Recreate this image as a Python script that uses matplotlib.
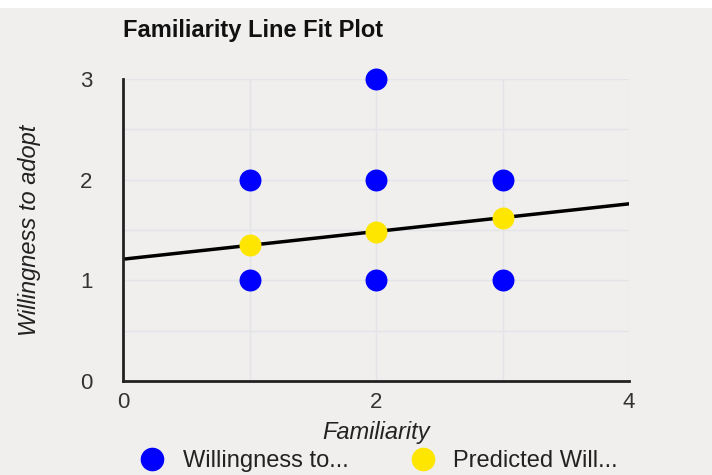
import matplotlib.pyplot as plt
from matplotlib.lines import Line2D
from matplotlib.patches import Rectangle

# data
familiarity = [1, 1, 2, 2, 2, 3, 3]
willingness = [2, 1, 3, 2, 1, 2, 1]
pred_x = [1, 2, 3]
pred_y = [1.35, 1.48, 1.62]
fit_x = [0, 4]
fit_y = [1.21, 1.76]

bg = '#f0efee'
font = ['Liberation Sans', 'DejaVu Sans']

fig = plt.figure(figsize=(7.12, 4.75), dpi=100)
fig.patch.set_facecolor(bg)
fig.patches.append(Rectangle((0, 1 - 8 / 475), 1, 8 / 475, transform=fig.transFigure,
                             facecolor='white', edgecolor='none'))

ax = fig.add_axes([123 / 712, 1 - 381 / 475, 506 / 712, 302 / 475])
ax.set_facecolor(bg)

ax.plot(fit_x, fit_y, color='black', lw=2.5, zorder=2)
ax.scatter(familiarity, willingness, s=250, color='#0000ff', zorder=3, linewidths=0, clip_on=False)
ax.scatter(pred_x, pred_y, s=250, color='#ffe600', zorder=4, linewidths=0, clip_on=False)

ax.set_xlim(0, 4)
ax.set_ylim(0, 3)
ax.set_xticks([0, 2, 4])
ax.set_yticks([0, 1, 2, 3])
ax.set_xticks([1, 3], minor=True)
ax.set_yticks([0.5, 1.5, 2.5], minor=True)
ax.grid(True, which='both', color='#e4e3e8', lw=1)
ax.set_axisbelow(True)
ax.tick_params(which='both', length=0, labelsize=16, colors='#333333')
ax.tick_params(axis='y', pad=22)
ax.tick_params(axis='x', pad=8)
for lab in ax.get_xticklabels() + ax.get_yticklabels():
    lab.set_family(font)

for s in ['top', 'right']:
    ax.spines[s].set_visible(False)
for s in ['left', 'bottom']:
    ax.spines[s].set_linewidth(2)
    ax.spines[s].set_color('#222222')

ax.set_xlabel('Familiarity', fontsize=17, style='italic', family=font, labelpad=6, color='#222222')
ax.set_ylabel('Willingness to adopt', fontsize=17, style='italic', family=font, labelpad=28, color='#222222')

fig.text(123 / 712, 1 - 30 / 475, 'Familiarity Line Fit Plot', fontsize=17, fontweight='bold',
         family=font, va='center', ha='left', color='#111111')

handles = [
    Line2D([], [], marker='o', ls='', color='#0000ff', markersize=16, label='Willingness to...'),
    Line2D([], [], marker='o', ls='', color='#ffe600', markersize=16, label='Predicted Will...'),
]
leg = fig.legend(handles=handles, loc='center', bbox_to_anchor=(379 / 712, 1 - 461 / 475), ncol=2,
                 frameon=False, prop={'family': font, 'size': 17}, columnspacing=2.65,
                 handletextpad=0.8, handlelength=1.0, borderpad=0)
for t in leg.get_texts():
    t.set_color('#222222')

fig.savefig('out.png', dpi=100, facecolor=bg)
